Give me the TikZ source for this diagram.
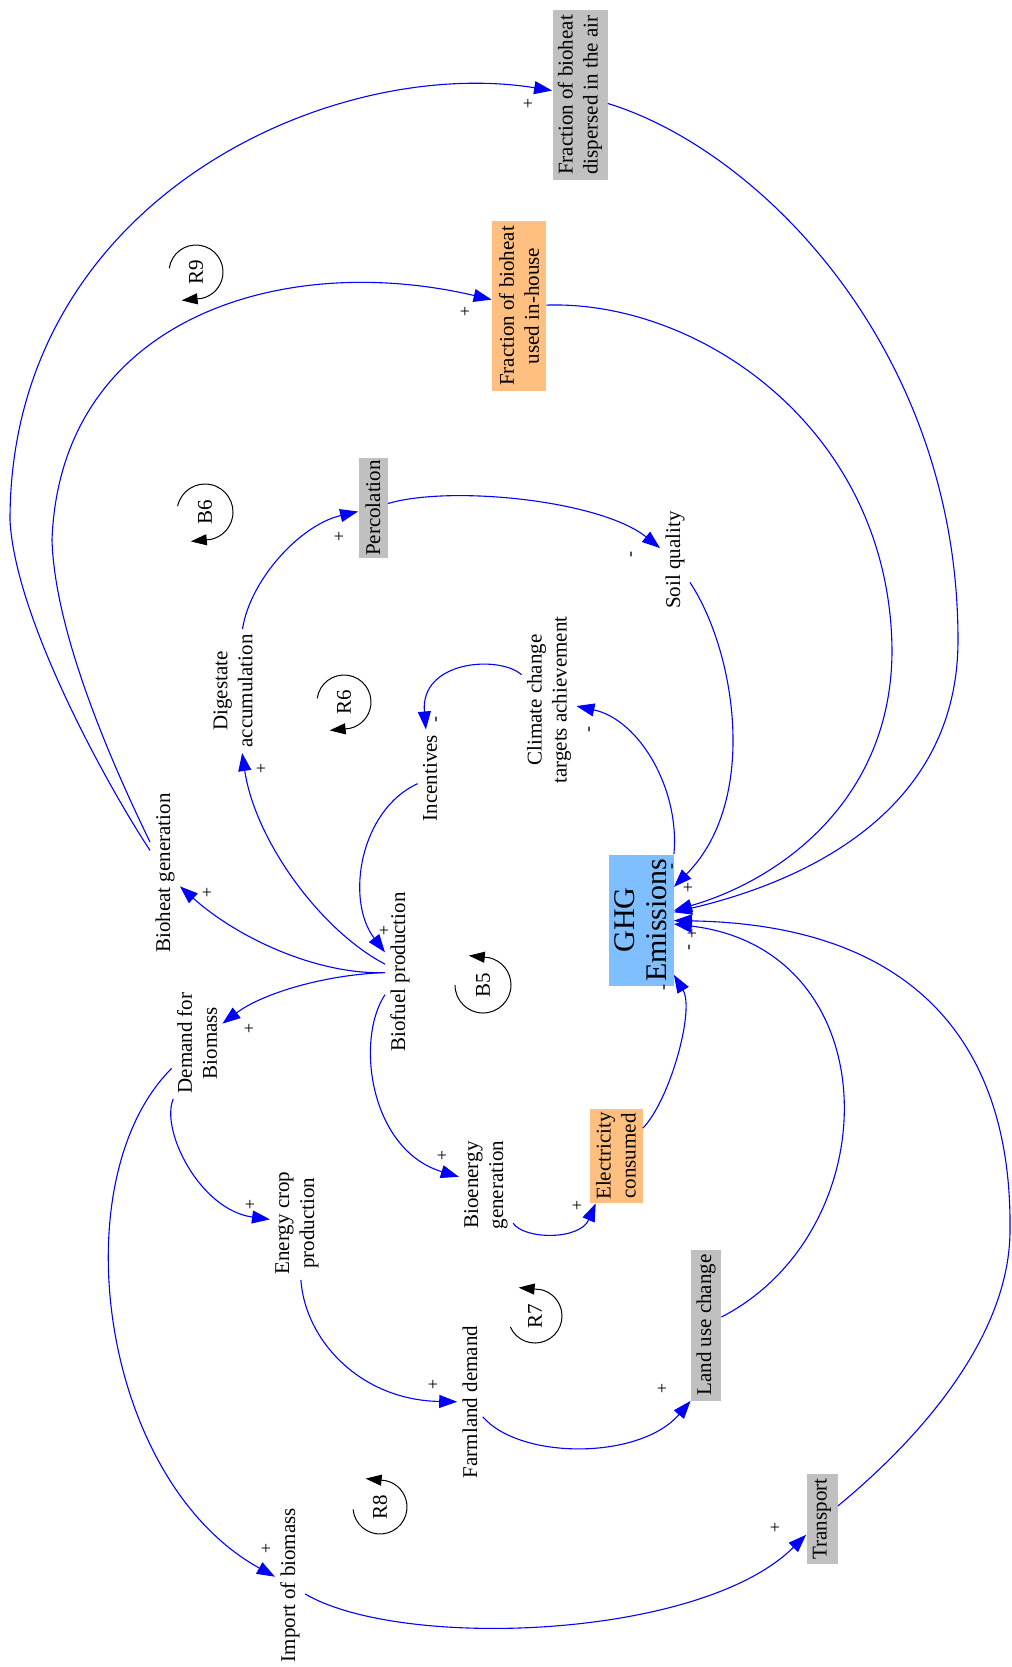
\documentclass[tikz,border=0pt]{standalone}
\usepackage{fontspec}
\setmainfont{Liberation Serif}
\usetikzlibrary{arrows.meta}
\definecolor{boxgray}{RGB}{192,192,192}
\definecolor{boxorange}{RGB}{255,191,128}
\definecolor{boxblue}{RGB}{128,191,255}
\newcommand\lblfont{\fontsize{10.5}{12.5}\selectfont}
\newcommand\ghgfont{\fontsize{15}{16}\selectfont}
\begin{document}
\begin{tikzpicture}[x=0.5pt,y=0.5pt,
  plain/.style={rotate=90, align=center, font=\lblfont, inner sep=2.5pt},
  box/.style={plain, inner sep=1pt},
  sign/.style={font=\fontsize{9}{9}\selectfont, inner sep=0pt},
  neg/.style={sign, rotate=90},
  link/.style={draw=blue, line width=0.55pt, -{Triangle[length=9pt,width=6.5pt]}},
  loopar/.style={draw=black, line width=0.5pt, -{Triangle[length=8pt,width=5.5pt]}},
  looplbl/.style={rotate=90, font=\lblfont, inner sep=0pt}]
\useasboundingbox (0,0) rectangle (1012,-1667);

% nodes
\node[box, fill=boxgray, minimum width=85pt, minimum height=27.5pt] (dispersed) at (580,-95) {Fraction of bioheat\\dispersed in the air};
\node[box, fill=boxorange, minimum width=85pt, minimum height=27pt] (inhouse) at (519,-306) {Fraction of bioheat\\used in-house};
\node[box, fill=boxgray, minimum width=49pt, minimum height=14.5pt] (perc) at (373,-508) {Percolation};
\node[plain] (soil) at (675,-560) {Soil quality};
\node[plain] (climate) at (549,-700) {Climate change\\targets achievement};
\node[plain] (incent) at (430,-778) {Incentives};
\node[plain] (digest) at (233,-691) {Digestate\\accumulation};
\node[plain] (bioheat) at (165,-873) {Bioheat generation};
\node[plain] (biofuel) at (400,-972) {Biofuel production};
\node[plain] (demand) at (197,-1043) {Demand for\\Biomass};
\node[box, fill=boxblue, font=\ghgfont, minimum width=65.5pt, minimum height=32.5pt] (ghg) at (641,-920) {GHG\\Emissions};
\node[plain] (energy) at (297,-1223) {Energy crop\\production};
\node[plain] (bioen) at (486,-1185) {Bioenergy\\generation};
\node[box, fill=boxorange, minimum width=47pt, minimum height=26.5pt] (elec) at (616,-1156) {Electricity\\consumed};
\node[box, fill=boxgray, minimum width=75.5pt, minimum height=15pt] (luc) at (706,-1325) {Land use change};
\node[plain] (farm) at (470,-1402) {Farmland demand};
\node[box, fill=boxgray, minimum width=45pt, minimum height=15.5pt] (transport) at (822,-1519) {Transport};
\node[plain] (import) at (290,-1585) {Import of biomass};

% connectors
\draw[link] (bioheat) .. controls (110,-790) and (15,-620) .. (10,-520) .. controls (10,-200) and (330,-55) .. (dispersed);
\draw[link] (bioheat) .. controls (120,-780) and (55,-640) .. (52,-540) .. controls (60,-320) and (280,-250) .. (inhouse);
\draw[link] (dispersed) .. controls (760,-150) and (958,-350) .. (958,-640) .. controls (958,-820) and (790,-885) .. (ghg);
\draw[link] (inhouse) .. controls (700,-300) and (890,-430) .. (892,-650) .. controls (892,-800) and (780,-880) .. (ghg);
\draw[link] (soil) .. controls (735,-650) and (760,-800) .. (ghg);
\draw[link] (ghg.south east) .. controls (680,-790) and (640,-720) .. (climate);
\draw[link] (climate) .. controls (500,-655) and (420,-660) .. (incent);
\draw[link] (incent) .. controls (360,-810) and (345,-900) .. (biofuel);
\draw[link] (biofuel) .. controls (320,-930) and (255,-840) .. (digest);
\draw[link] (biofuel) .. controls (320,-975) and (240,-940) .. (bioheat);
\draw[link] (biofuel) .. controls (320,-975) and (260,-995) .. (demand);
\draw[link] (biofuel) .. controls (355,-1040) and (370,-1150) .. (bioen);
\draw[link] (bioen) .. controls (525,-1240) and (580,-1240) .. (elec);
\draw[link] (elec) .. controls (670,-1100) and (695,-1010) .. (ghg);
\draw[link] (demand) .. controls (160,-1130) and (200,-1210) .. (energy);
\draw[link] (demand) .. controls (60,-1180) and (100,-1480) .. (import);
\draw[link] (energy) .. controls (305,-1340) and (360,-1400) .. (farm);
\draw[link] (farm) .. controls (520,-1460) and (640,-1460) .. (luc.north west);
\draw[link] (import) .. controls (400,-1650) and (700,-1640) .. (transport);
\draw[link] (luc) .. controls (890,-1230) and (890,-950) .. (ghg);
\draw[link] (transport) .. controls (930,-1430) and (1010,-1330) .. (1010,-1230) .. controls (1012,-1060) and (930,-925) .. (ghg);
\draw[link] (digest) .. controls (250,-580) and (300,-525) .. (perc);
\draw[link] (perc) .. controls (450,-485) and (600,-500) .. (soil);

% polarity signs
\node[sign] (p1) at (528,-104) {+};
\node[sign] (p2) at (465,-312) {+};
\node[sign] (p3) at (339,-537) {+};
\node[neg] (m1) at (633,-554) {-};
\node[neg] (m2) at (591,-729) {-};
\node[neg] (m3) at (438,-719) {-};
\node[sign] (p4) at (261,-769) {+};
\node[sign] (p5) at (384,-931) {+};
\node[sign] (p6) at (207,-893) {+};
\node[sign] (p7) at (249,-1029) {+};
\node[sign] (p8) at (442,-1156) {+};
\node[sign] (p9) at (577,-1206) {+};
\node[sign] (p10) at (250,-1205) {+};
\node[sign] (p11) at (433,-1385) {+};
\node[sign] (p12) at (662,-1389) {+};
\node[sign] (p13) at (266,-1549) {+};
\node[sign] (p14) at (775,-1528) {+};
\node[neg] (m4) at (674,-866) {-};
\node[sign] (p15) at (688,-888) {+};
\node[sign] (p16) at (692,-934) {+};
\node[neg] (m5) at (691,-947) {-};
\node[neg] (m6) at (666,-987) {-};

% loop markers
\node[looplbl] (r9) at (196,-272) {R9};
\draw[loopar] ([shift={(172:27)}]r9.center) arc[start angle=172, end angle=-78, radius=27] -- ++(-20,-2);
\node[looplbl] (b6) at (205,-512) {B6};
\draw[loopar] ([shift={(168:28)}]b6.center) arc[start angle=168, end angle=-78, radius=28] -- ++(-20,-2);
\node[looplbl] (r6) at (344,-702) {R6};
\draw[loopar] ([shift={(172:27)}]r6.center) arc[start angle=172, end angle=-78, radius=27] -- ++(-20,-2);
\node[looplbl] (b5) at (483,-985) {B5};
\draw[loopar] ([shift={(180:28)}]b5.center) arc[start angle=180, end angle=438, radius=28] -- ++(-20,2);
\node[looplbl] (r7) at (535,-1316) {R7};
\draw[loopar] ([shift={(204:27)}]r7.center) arc[start angle=204, end angle=438, radius=27] -- ++(-22,2);
\node[looplbl] (r8) at (380,-1507) {R8};
\draw[loopar] ([shift={(185:27)}]r8.center) arc[start angle=185, end angle=438, radius=27] -- ++(-20,2);
\end{tikzpicture}
\end{document}
